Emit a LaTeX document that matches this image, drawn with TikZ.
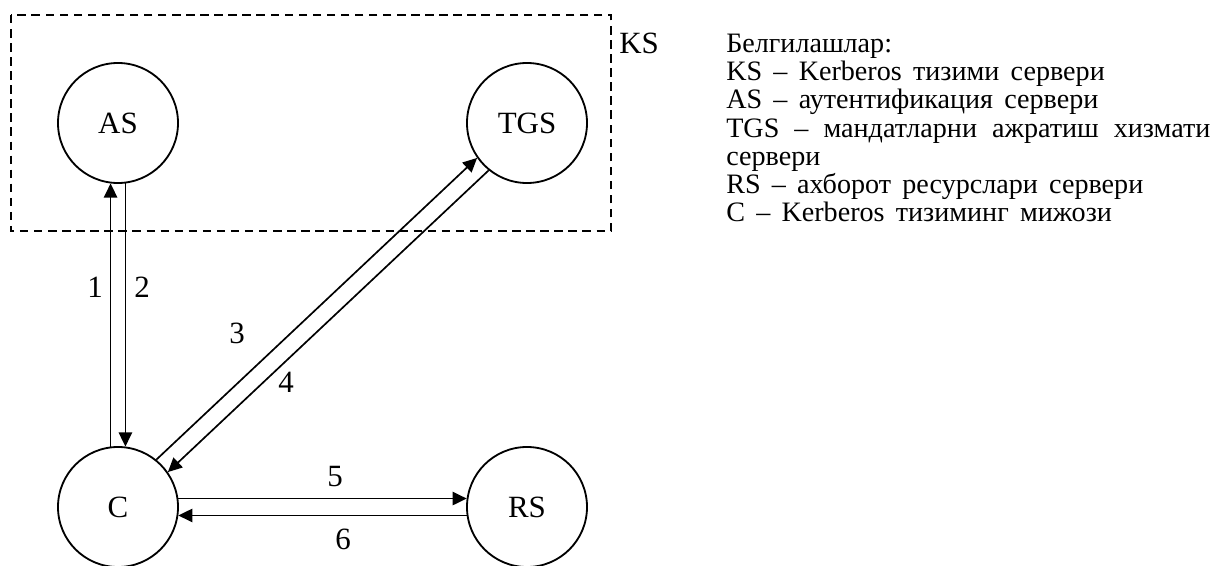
\documentclass[tikz,border=0pt]{standalone}
\usepackage{fontspec}
\setmainfont{Liberation Serif}
\usetikzlibrary{arrows.meta}

\newcommand{\legendwide}{\spaceskip=0.4em plus 0.4em minus 0.15em\relax}

\tikzset{
  srv/.style={draw, circle, line width=1.3pt, minimum size=3cm, inner sep=0pt,
    font=\fontsize{22}{26}\selectfont},
  msg/.style={-{Triangle[length=10pt,width=9.5pt]}, line width=1.2pt},
  num/.style={inner sep=0pt, font=\fontsize{22}{26}\selectfont},
  ksbox/.style={line width=1.2pt, dash pattern=on 6pt off 4pt},
}

\begin{document}
\begin{tikzpicture}[x=0.025cm, y=-0.025cm]
  \def\dv{7}    % half gap of the vertical pair (deg)
  \def\dd{8}    % half gap of the other pairs (deg)
  \def\dg{43}   % direction C -> TGS
  \pgfmathtruncatemacro{\aUpL}{90+\dv}
  \pgfmathtruncatemacro{\aUpR}{90-\dv}
  \pgfmathtruncatemacro{\aDnL}{270-\dv}
  \pgfmathtruncatemacro{\aDnR}{270+\dv}
  \pgfmathtruncatemacro{\aCa}{\dg+\dd}
  \pgfmathtruncatemacro{\aCb}{\dg-\dd}
  \pgfmathtruncatemacro{\aTa}{\dg+180-\dd}
  \pgfmathtruncatemacro{\aTb}{\dg+180+\dd}
  \pgfmathtruncatemacro{\aRa}{180-\dd}
  \pgfmathtruncatemacro{\aRb}{180+\dd}
  \pgfmathtruncatemacro{\aLa}{\dd}
  \pgfmathtruncatemacro{\aLb}{360-\dd}

  \useasboundingbox (0,0) rectangle (1213,566);

  % Kerberos server boundary
  \draw[ksbox] (11,15) rectangle (611,231);
  \node[num, anchor=west] (ks) at (619,43) {KS};

  % servers and client
  \node[srv] (AS)  at (118,123) {AS};
  \node[srv] (TGS) at (527,123) {TGS};
  \node[srv] (C)   at (118,507) {C};
  \node[srv] (RS)  at (527,507) {RS};

  % messages
  \draw[msg] (C.\aUpL) -- (AS.\aDnL);
  \draw[msg] (AS.\aDnR) -- (C.\aUpR);
  \draw[msg] (C.\aCa) -- (TGS.\aTa);
  \draw[msg] (TGS.\aTb) -- (C.\aCb);
  \draw[msg] (C.\aLa) -- (RS.\aRa);
  \draw[msg] (RS.\aRb) -- (C.\aLb);

  \node[num] (n1) at (95,287) {1};
  \node[num] (n2) at (142,287) {2};
  \node[num] (n3) at (237,333) {3};
  \node[num] (n4) at (286,382) {4};
  \node[num] (n5) at (335,477) {5};
  \node[num] (n6) at (343,539) {6};

  % legend
  \node[anchor=north west, align=left, inner sep=0pt,
    font=\fontsize{20}{20}\selectfont] (legend) at (726,34) {%
    \legendwide Белгилашлар:\\
    \legendwide KS – Kerberos тизими сервери\\
    \legendwide AS – аутентификация сервери\\
    \makebox[12.1cm][s]{\legendwide TGS – мандатларни ажратиш хизмати}\\
    \legendwide сервери\\
    \legendwide RS – ахборот ресурслари сервери\\
    \legendwide C – Kerberos тизиминг мижози};
\end{tikzpicture}
\end{document}
